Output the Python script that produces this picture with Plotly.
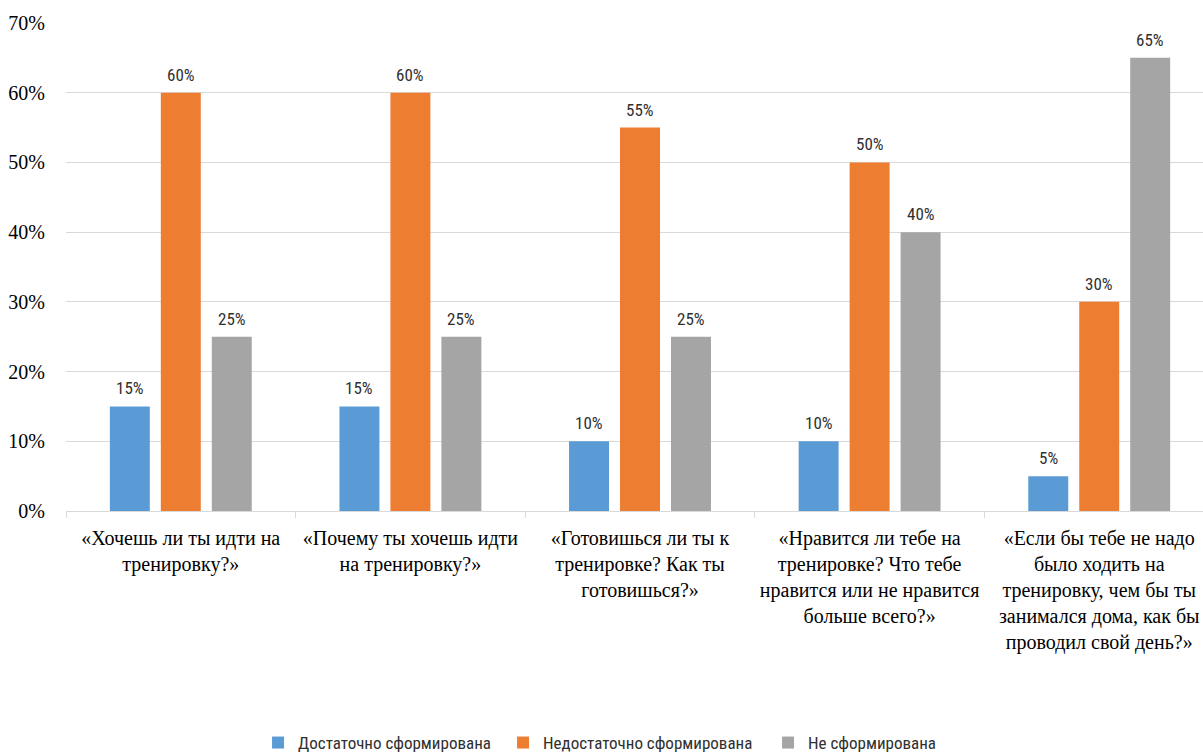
import plotly.graph_objects as go

# Survey questions (category axis labels, wrapped by hand)
questions = [
    "«Хочешь ли ты идти на<br>тренировку?»",
    "«Почему ты хочешь идти<br>на тренировку?»",
    "«Готовишься ли ты к<br>тренировке? Как ты<br>готовишься?»",
    "«Нравится ли тебе на<br>тренировке? Что тебе<br>нравится или не нравится<br>больше всего?»",
    "«Если бы тебе не надо<br>было ходить на<br>тренировку, чем бы ты<br>занимался дома, как бы<br>проводил свой день?»",
]

series_names = ["Достаточно сформирована", "Недостаточно сформирована", "Не сформирована"]
sufficient = [0.15, 0.15, 0.10, 0.10, 0.05]
insufficient = [0.60, 0.60, 0.55, 0.50, 0.30]
not_formed = [0.25, 0.25, 0.25, 0.40, 0.65]
series_values = [sufficient, insufficient, not_formed]
series_colors = ["#5B9BD5", "#ED7D31", "#A5A5A5"]
legend_widths = [200, 220, 140]

y_ticks = [0, 0.1, 0.2, 0.3, 0.4, 0.5, 0.6, 0.7]
y_tick_labels = ["0%", "10%", "20%", "30%", "40%", "50%", "60%", "70%"]

sans = "Roboto Condensed, Roboto, Arial, sans-serif"
label_font = dict(family=sans, size=17, color="#303030", weight=400)
serif = dict(family="Liberation Serif, Times New Roman, serif", size=20, color="#000000")

fig = go.Figure()
for name, vals, color, lw in zip(series_names, series_values, series_colors, legend_widths):
    fig.add_trace(go.Bar(
        x=questions, y=vals, name=name, legendwidth=lw,
        marker=dict(color=color, line=dict(width=0)),
    ))

# Value labels above each bar, shifted to its slot within the group
slot_px = 51
for i, vals in enumerate(series_values):
    for q, v in zip(questions, vals):
        fig.add_annotation(
            x=q, y=v, text=f"{round(v * 100)}%", showarrow=False,
            xshift=(i - 1) * slot_px, yshift=18, yanchor="middle",
            font=label_font,
        )

fig.update_layout(
    width=1203, height=752,
    margin=dict(l=66, r=0, t=23, b=241, autoexpand=False),
    paper_bgcolor="white", plot_bgcolor="white",
    barmode="group", bargap=0.334, bargroupgap=0.216,
    showlegend=True,
    legend=dict(
        orientation="h", x=0.1689, xanchor="left", y=-0.4754, yanchor="middle",
        font=dict(family=sans, size=17, color="#303030", weight=400),
        itemwidth=30, traceorder="normal",
    ),
    xaxis=dict(
        range=[-0.5, 4.452], tickson="boundaries", ticks="outside", ticklen=6,
        tickcolor="#D9D9D9", showline=True, linecolor="#D9D9D9", linewidth=1,
        showgrid=False, tickfont=serif, ticklabelstandoff=9,
    ),
    yaxis=dict(
        range=[0, 0.7], tickvals=y_ticks, ticktext=y_tick_labels,
        showgrid=True, gridcolor="#D9D9D9", gridwidth=1, zeroline=False,
        ticks="", ticklabelstandoff=20, tickfont=serif,
    ),
)

fig.write_html("out.html")
